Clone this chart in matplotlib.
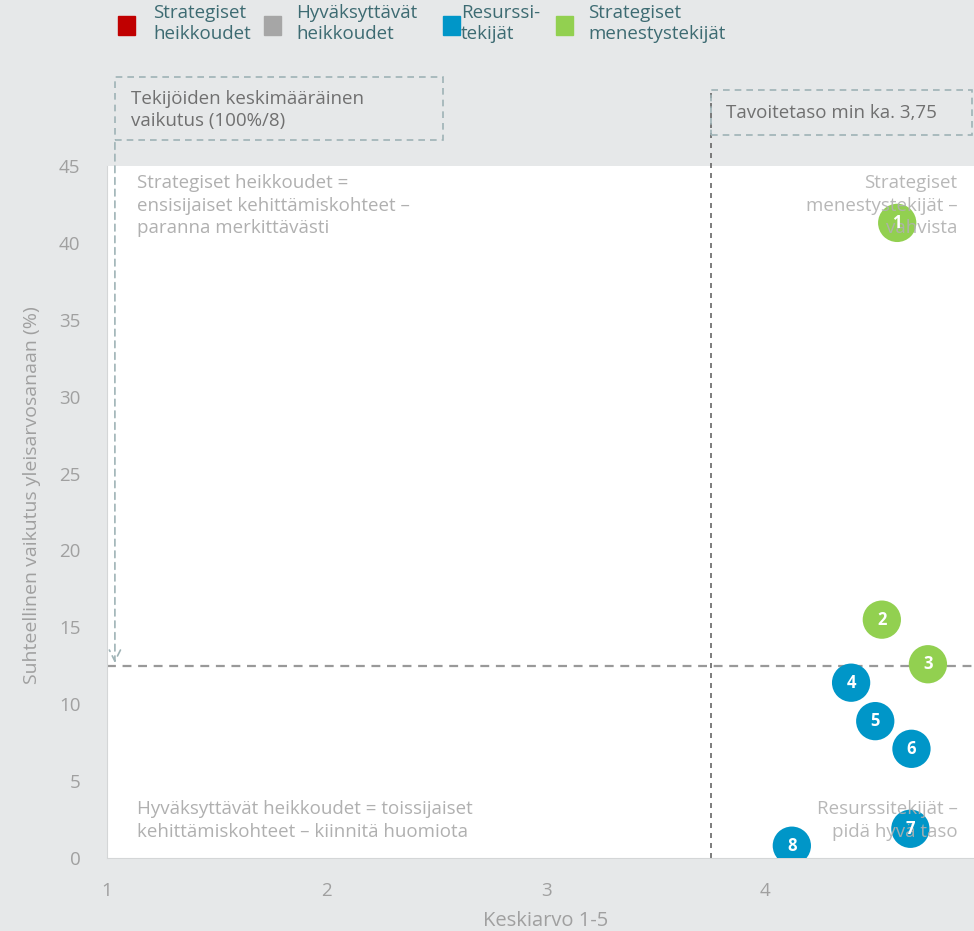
import matplotlib.pyplot as plt
from matplotlib.patches import Rectangle

plt.rcParams['font.family'] = ['Open Sans', 'DejaVu Sans']

# factor data
labels = ['1', '2', '3', '4', '5', '6', '7', '8']
keskiarvo = [4.60, 4.53, 4.74, 4.39, 4.50, 4.665, 4.66, 4.12]
vaikutus = [41.3, 15.5, 12.6, 11.4, 8.9, 7.1, 1.9, 0.8]
ryhma = ['menestys', 'menestys', 'menestys', 'resurssi', 'resurssi', 'resurssi', 'resurssi', 'resurssi']

legend_names = ['Strategiset\nheikkoudet', 'Hyväksyttävät\nheikkoudet', 'Resurssi-\ntekijät', 'Strategiset\nmenestystekijät']
legend_cols = ['#c00000', '#a6a6a6', '#0096c8', '#92d050']
colors = {'menestys': '#92d050', 'resurssi': '#0096c8'}

tavoite = 3.75
keskim = 100 / 8

bg = '#e6e8e9'
fig = plt.figure(figsize=(9.74, 9.31), dpi=100, facecolor=bg)
ax = fig.add_axes([107/974, 73/931, 878/974, 692/931])
ax.set_facecolor('white')
ax.set_xlim(1, 5)
ax.set_ylim(0, 45)
ax.set_xticks([1, 2, 3, 4])
ax.set_yticks(range(0, 50, 5))
ax.tick_params(length=0, labelsize=13.5, colors='#a0a0a0', pad=17)
ax.tick_params(axis='y', pad=19)
for s in ax.spines.values():
    s.set_color('#d4d6d7')
ax.spines['top'].set_visible(False)
ax.spines['right'].set_visible(False)
ax.set_xlabel('Keskiarvo 1-5', fontsize=14.5, color='#a0a0a0', labelpad=8)
ax.set_ylabel('Suhteellinen vaikutus yleisarvosanaan (%)', fontsize=14, color='#a0a0a0', labelpad=12)
ax.yaxis.set_label_coords(-0.075, 0.525)

# reference lines
ax.axhline(keskim, color='#999999', ls=(0, (4, 3)), lw=1.6, zorder=1)
ax.plot([tavoite, tavoite], [0, 50], color='#666666', ls=(0, (3, 3)), lw=1.2, clip_on=False, zorder=1)

# points
for lab, x, y, g in zip(labels, keskiarvo, vaikutus, ryhma):
    ax.scatter(x, y, s=760, color=colors[g], zorder=3, edgecolors='none')
    ax.text(x, y, lab, ha='center', va='center', color='white', fontsize=12, fontweight='bold', zorder=5)

# quadrant texts
qc = '#b0b0b0'
ax.text(1.135, 44.5, 'Strategiset heikkoudet =\nensisijaiset kehittämiskohteet –\nparanna merkittävästi',
        ha='left', va='top', fontsize=13.5, color=qc, linespacing=1.35, zorder=4)
ax.text(4.875, 44.5, 'Strategiset\nmenestystekijät –\nvahvista',
        ha='right', va='top', fontsize=13.5, color=qc, linespacing=1.35, zorder=4, alpha=0.9)
ax.text(1.135, 1.1, 'Hyväksyttävät heikkoudet = toissijaiset\nkehittämiskohteet – kiinnitä huomiota',
        ha='left', va='bottom', fontsize=13.5, color=qc, linespacing=1.35, zorder=4)
ax.text(4.875, 1.1, 'Resurssitekijät –\npidä hyvä taso',
        ha='right', va='bottom', fontsize=13.5, color=qc, linespacing=1.35, zorder=4, alpha=0.9)

# annotation boxes
bc = '#9fb3b6'
ax.add_patch(Rectangle((1.036, 46.7), 1.494, 4.1, fill=False, ec=bc, ls=(0, (4, 3)), lw=1.2, clip_on=False))
ax.text(1.11, 49.95, 'Tekijöiden keskimääräinen\nvaikutus (100%/8)', ha='left', va='top',
        fontsize=13.5, color='#707070', linespacing=1.3)
ax.annotate('', xy=(1.036, keskim), xytext=(1.036, 46.7),
            arrowprops=dict(arrowstyle='->', color=bc, lw=1.2, ls=(0, (4, 3)), mutation_scale=20),
            annotation_clip=False)
ax.add_patch(Rectangle((tavoite, 47.0), 1.193, 2.95, fill=False, ec=bc, ls=(0, (4, 3)), lw=1.2, clip_on=False))
ax.text(3.82, 48.45, 'Tavoitetaso min ka. 3,75', ha='left', va='center', fontsize=13.5, color='#707070')

# legend
lx = [118, 264, 443, 556]
tx = [153, 296, 461, 588]
for name, c, x0, x1 in zip(legend_names, legend_cols, lx, tx):
    fig.patches.append(Rectangle((x0/974, 1 - 35/931), 17/974, 19/931, transform=fig.transFigure,
                                 color=c, zorder=3))
    fig.text(x1/974, 1 - 4/931, name, ha='left', va='top', fontsize=13.5, color='#3d6b72', linespacing=1.2)

fig.savefig('out.png', dpi=100, facecolor=bg)
